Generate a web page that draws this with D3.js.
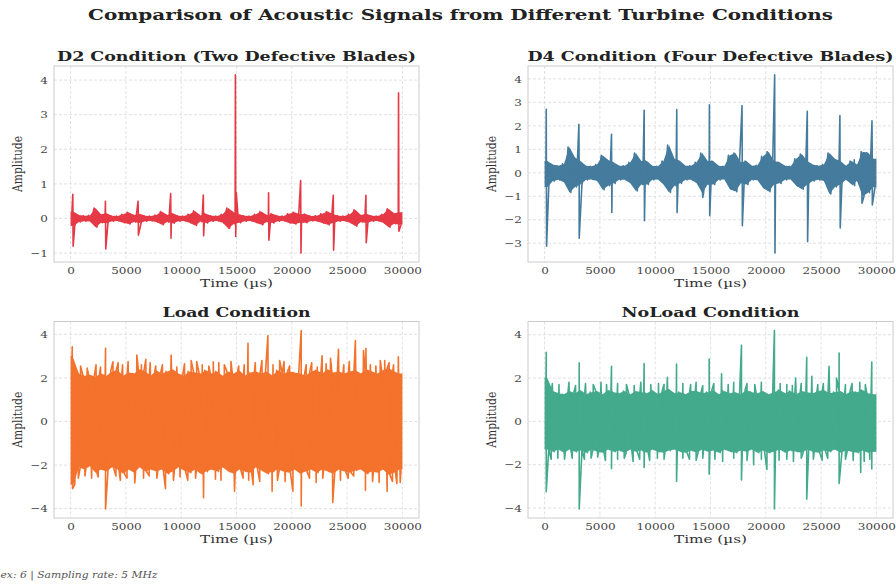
<!DOCTYPE html>
<html><head><meta charset="utf-8">
<script src="https://cdn.jsdelivr.net/npm/d3@7"></script>
<style>body{margin:0;background:#fff}svg{display:block}</style>
</head><body>
<svg id="c" width="896" height="585"></svg>
<script>
// ---------------- DATA ----------------
const timeTicks = [0, 5000, 10000, 15000, 20000, 25000, 30000];
const binStart = d3.range(0, 30000, 500); // 60 bins of 500 µs (envelope grid)

const panelTitles = ["D2 Condition (Two Defective Blades)", "D4 Condition (Four Defective Blades)", "Load Condition", "NoLoad Condition"];
const colors = ["#e63946", "#457b9d", "#f3722c", "#43aa8b"];
const yTicksD2 = [-1, 0, 1, 2, 3, 4];
const yTicksD4 = [-3, -2, -1, 0, 1, 2, 3, 4];
const yTicksLoad = [-4, -2, 0, 2, 4];
const yTicksNoLoad = [-4, -2, 0, 2, 4];
const footnote = "ex: 6 | Sampling rate: 5 MHz";

// D2 envelope (max / min per bin)
const d2Hi = [0.20,0.10,0.08,0.09,0.30,0.12,0.15,0.08,0.07,0.12,0.18,0.10,0.14,0.08,0.07,0.10,0.20,0.10,0.15,0.08,0.07,0.12,0.22,0.09,0.14,0.08,0.07,0.12,0.30,0.18,0.12,0.08,0.07,0.12,0.20,0.10,0.14,0.08,0.07,0.14,0.18,0.12,0.13,0.07,0.08,0.14,0.20,0.12,0.08,0.07,0.12,0.25,0.10,0.14,0.08,0.07,0.12,0.28,0.15,0.18];
const d2Lo = [-0.22,-0.10,-0.08,-0.09,-0.25,-0.12,-0.14,-0.08,-0.07,-0.12,-0.16,-0.10,-0.13,-0.08,-0.07,-0.10,-0.18,-0.10,-0.14,-0.08,-0.07,-0.12,-0.20,-0.09,-0.13,-0.08,-0.07,-0.12,-0.28,-0.16,-0.12,-0.08,-0.07,-0.12,-0.18,-0.10,-0.13,-0.08,-0.07,-0.13,-0.16,-0.12,-0.12,-0.07,-0.08,-0.13,-0.18,-0.12,-0.08,-0.07,-0.12,-0.22,-0.10,-0.13,-0.08,-0.07,-0.12,-0.25,-0.15,-0.18];
const d2UpT = [200, 3150, 6100, 9050, 12000, 14900, 14980, 17900, 20800, 23750, 26700, 29650];
const d2UpV = [0.70, 0.50, 0.50, 0.72, 0.68, 4.15, 0.75, 0.74, 1.10, 0.67, 0.67, 3.63];
const d2DnT = [230, 3180, 6130, 9080, 12030, 14300, 14930, 17930, 20830, 23780, 26730, 29680];
const d2DnV = [-0.80, -0.88, -0.48, -0.57, -0.50, -0.28, -0.52, -0.63, -1.00, -0.92, -0.70, -0.37];

// D4 envelope
const d4Hi = [0.50,0.35,0.30,0.38,1.10,0.65,0.50,0.30,0.28,0.35,0.75,0.55,0.45,0.30,0.30,0.45,0.84,0.50,0.50,0.30,0.28,0.50,1.18,0.60,0.50,0.30,0.30,0.45,0.84,0.50,0.50,0.30,0.28,0.75,0.84,0.45,0.50,0.30,0.32,0.70,0.90,0.50,0.45,0.30,0.28,0.60,0.80,0.50,0.35,0.30,0.35,0.84,0.60,0.50,0.30,0.50,0.35,0.90,0.85,0.60];
const d4Lo = [-0.60,-0.35,-0.30,-0.40,-0.84,-0.60,-0.50,-0.30,-0.28,-0.35,-0.72,-0.55,-0.45,-0.30,-0.30,-0.45,-0.77,-0.50,-0.50,-0.30,-0.28,-0.50,-0.84,-0.55,-0.45,-0.30,-0.30,-0.45,-0.86,-0.50,-0.50,-0.30,-0.28,-0.70,-0.80,-0.45,-0.50,-0.30,-0.32,-0.65,-0.80,-0.50,-0.45,-0.30,-0.28,-0.55,-0.70,-0.50,-0.35,-0.30,-0.35,-0.90,-0.60,-0.50,-0.30,-0.50,-0.35,-1.00,-0.85,-0.60];
const d4UpT = [150, 3100, 6050, 9000, 11950, 14900, 17850, 20800, 23750, 26700, 28000, 29600];
const d4UpV = [2.71, 2.07, 1.64, 2.66, 2.69, 2.90, 2.86, 4.17, 2.62, 2.44, 0.55, 2.22];
const d4DnT = [180, 3130, 6080, 9030, 11980, 14300, 14930, 17880, 20830, 23780, 26730, 28030, 28700, 29630];
const d4DnV = [-3.13, -2.79, -1.69, -2.04, -1.69, -1.05, -1.83, -2.25, -3.42, -2.93, -2.35, -0.55, -1.30, -1.37];

// Load envelope
const loadHi = [2.90,2.20,2.10,2.15,2.05,2.20,2.10,2.30,2.35,2.10,2.25,2.20,2.40,2.30,2.10,2.35,2.20,2.30,2.40,2.20,2.10,2.30,2.25,2.20,2.35,2.20,2.30,2.10,2.30,2.20,2.35,2.10,2.25,2.30,2.20,2.30,2.10,2.35,2.20,2.30,2.25,2.20,2.10,2.30,2.35,2.20,2.40,2.25,2.30,2.20,2.30,2.35,2.20,2.40,2.30,2.20,2.35,2.45,2.30,2.20];
const loadLo = [-2.90,-2.10,-2.20,-2.05,-2.35,-2.20,-2.30,-2.10,-2.20,-2.40,-2.20,-2.35,-2.10,-2.30,-2.20,-2.30,-2.20,-2.40,-2.30,-2.10,-2.25,-2.35,-2.20,-2.40,-2.30,-2.20,-2.30,-2.10,-2.30,-2.40,-2.20,-2.30,-2.35,-2.10,-2.25,-2.40,-2.30,-2.20,-2.30,-2.35,-2.20,-2.40,-2.30,-2.20,-2.35,-2.20,-2.30,-2.40,-2.20,-2.30,-2.35,-2.25,-2.20,-2.40,-2.30,-2.35,-2.20,-2.45,-2.35,-2.20];
const loadUpT = [30, 150, 3160, 3830, 5990, 6800, 9090, 10900, 12900, 16040, 17840, 18900, 20850, 22740, 23500, 24220, 25750, 26480, 26700, 28400, 29630,
  900, 1500, 2300, 2700, 4300, 4700, 5200, 6400, 7200, 7700, 8300, 9600, 10300, 11400, 11900, 12500, 13400, 13900, 14500, 15200, 15700, 16700, 17300, 18300, 19300, 19800, 21300, 21800, 22300, 23100, 24700, 25200, 27100, 27600, 28000, 28800, 29200];
const loadUpV = [3.00, 3.43, 3.36, 2.74, 3.05, 2.85, 3.05, 2.80, 2.74, 3.59, 3.94, 2.80, 4.18, 3.02, 2.90, 3.31, 3.72, 3.26, 3.36, 2.80, 2.97,
  2.55, 2.45, 2.60, 2.50, 2.70, 2.60, 2.75, 2.60, 2.70, 2.55, 2.60, 2.50, 2.65, 2.75, 2.60, 2.55, 2.70, 2.60, 2.75, 2.55, 2.60, 2.70, 2.80, 2.60, 2.75, 2.55, 2.60, 2.70, 2.50, 2.65, 2.60, 2.75, 2.60, 2.55, 2.80, 2.70, 2.60];
const loadDnT = [180, 3160, 5800, 8580, 12020, 14820, 16500, 18220, 20100, 20850, 23700, 26660, 28620, 29500,
  700, 1300, 1900, 2500, 4100, 4500, 5100, 6600, 7100, 7800, 9300, 9900, 10600, 11300, 13100, 13600, 15600, 16100, 17100, 18700, 19400, 21600, 22200, 22800, 24400, 25100, 25600, 27300, 27900, 29100, 29800];
const loadDnV = [-3.08, -4.02, -2.82, -3.08, -3.50, -3.20, -2.90, -3.20, -3.20, -3.88, -3.72, -3.16, -3.20, -2.85,
  -2.60, -2.50, -2.60, -2.55, -2.50, -2.70, -2.60, -2.60, -2.50, -2.60, -2.70, -2.55, -2.70, -2.60, -2.65, -2.70, -2.60, -2.70, -2.75, -2.70, -2.75, -2.60, -2.80, -2.60, -2.70, -2.60, -2.50, -2.75, -2.80, -2.75, -2.80];

// NoLoad envelope
const noloadHi = [2.00,1.40,1.30,1.25,1.40,1.30,1.45,1.25,1.35,1.40,1.25,1.45,1.35,1.30,1.40,1.25,1.40,1.35,1.30,1.45,1.25,1.40,1.50,1.30,1.35,1.25,1.40,1.40,1.30,1.35,1.45,1.25,1.40,1.30,1.35,1.25,1.45,1.35,1.30,1.40,1.25,1.35,1.45,1.30,1.40,1.25,1.40,1.35,1.30,1.40,1.45,1.30,1.35,1.40,1.25,1.40,1.35,1.45,1.30,1.25];
const noloadLo = [-1.30,-1.40,-1.30,-1.45,-1.30,-1.40,-1.35,-1.45,-1.30,-1.40,-1.45,-1.30,-1.40,-1.35,-1.45,-1.30,-1.40,-1.35,-1.45,-1.30,-1.40,-1.45,-1.35,-1.30,-1.40,-1.45,-1.35,-1.45,-1.30,-1.40,-1.35,-1.45,-1.30,-1.40,-1.45,-1.35,-1.40,-1.30,-1.45,-1.35,-1.45,-1.40,-1.30,-1.45,-1.35,-1.40,-1.45,-1.30,-1.40,-1.45,-1.35,-1.40,-1.30,-1.45,-1.35,-1.40,-1.45,-1.35,-1.45,-1.40];
const noloadUpT = [30, 150, 3130, 6050, 9000, 11100, 11930, 14880, 16000, 17800, 20780, 22700, 23700, 24160, 25720, 26400, 26630, 29580,
  700, 1300, 2200, 2800, 3700, 4400, 5100, 5600, 6600, 7400, 8100, 8700, 9600, 10300, 10800, 12500, 13200, 13700, 14300, 15300, 16600, 17100, 18300, 19000, 19600, 21300, 21900, 22400, 23200, 24700, 25200, 27200, 27800, 28500, 29000];
const noloadUpV = [2.00, 3.19, 2.70, 2.54, 2.67, 2.04, 2.65, 2.88, 2.20, 3.51, 4.20, 2.00, 2.96, 2.08, 2.54, 2.00, 3.16, 2.74,
  1.75, 1.70, 1.80, 1.65, 1.75, 1.70, 1.80, 1.70, 1.75, 1.70, 1.65, 1.80, 1.70, 1.75, 1.70, 1.75, 1.70, 1.80, 1.65, 1.75, 1.70, 1.80, 1.75, 1.70, 1.80, 1.75, 1.70, 1.65, 1.75, 1.70, 1.75, 1.70, 1.75, 1.80, 1.70];
const noloadDnT = [150, 3130, 6050, 9000, 11930, 14880, 17800, 20100, 20780, 23700, 26630, 28580, 29580,
  600, 1200, 1800, 2500, 3600, 4200, 4800, 5500, 6600, 7200, 8000, 8600, 9500, 10200, 10800, 12500, 13100, 13700, 14300, 15400, 16100, 17100, 18300, 18900, 19600, 21200, 21900, 22500, 23200, 24300, 25100, 25600, 27200, 27900, 28900, 29400];
const noloadDnV = [-3.25, -4.05, -2.18, -2.13, -2.77, -2.44, -2.71, -2.22, -4.05, -3.59, -2.87, -2.36, -2.20,
  -1.75, -1.70, -1.75, -1.70, -1.75, -1.70, -1.65, -1.80, -1.75, -1.70, -1.85, -1.75, -1.80, -1.70, -1.75, -1.70, -1.75, -1.80, -1.70, -1.75, -1.85, -1.70, -1.80, -2.00, -1.75, -1.80, -1.75, -1.85, -1.70, -1.75, -1.80, -1.70, -1.75, -1.80, -1.85, -1.75];

// ---------------- LAYOUT ----------------
const svg = d3.select("#c");
const FONT = "'DejaVu Serif', serif";

const panels = [
  {title: panelTitles[0], color: colors[0], hi: d2Hi, lo: d2Lo, upT: d2UpT, upV: d2UpV, dnT: d2DnT, dnV: d2DnV, yTicks: yTicksD2, box: {l: 54, r: 419, t: 66, b: 262}, titleW: 359},
  {title: panelTitles[1], color: colors[1], hi: d4Hi, lo: d4Lo, upT: d4UpT, upV: d4UpV, dnT: d4DnT, dnV: d4DnV, yTicks: yTicksD4, box: {l: 528, r: 893, t: 66, b: 262}, titleW: 366},
  {title: panelTitles[2], color: colors[2], hi: loadHi, lo: loadLo, upT: loadUpT, upV: loadUpV, dnT: loadDnT, dnV: loadDnV, yTicks: yTicksLoad, box: {l: 54, r: 419, t: 321.5, b: 518}, titleW: 148},
  {title: panelTitles[3], color: colors[3], hi: noloadHi, lo: noloadLo, upT: noloadUpT, upV: noloadUpV, dnT: noloadDnT, dnV: noloadDnV, yTicks: yTicksNoLoad, box: {l: 528, r: 893, t: 321.5, b: 518}, titleW: 178}
];

function stretch(sel, k) {
  sel.each(function () {
    const n = this.getComputedTextLength();
    d3.select(this).attr("textLength", n * k).attr("lengthAdjust", "spacingAndGlyphs");
  });
}

// main title
svg.append("text").attr("x", 460.5).attr("y", 19.5).attr("text-anchor", "middle")
  .attr("font-family", FONT).attr("font-weight", "bold").attr("font-size", 15).attr("fill", "#222")
  .attr("textLength", 745).attr("lengthAdjust", "spacingAndGlyphs")
  .text("Comparison of Acoustic Signals from Different Turbine Conditions");

panels.forEach((p, idx) => {
  const B = p.box;
  const allV = p.hi.concat(p.lo, p.upV, p.dnV);
  const [vmin, vmax] = d3.extent(allV);
  const pad = (vmax - vmin) * 0.05;
  const x = d3.scaleLinear().domain([-1500, 31500]).range([B.l, B.r]);
  const y = d3.scaleLinear().domain([vmin - pad, vmax + pad]).range([B.b, B.t]);
  const g = svg.append("g");

  const cid = "clip" + idx;
  svg.append("clipPath").attr("id", cid).append("rect")
    .attr("x", B.l).attr("y", B.t).attr("width", B.r - B.l).attr("height", B.b - B.t);

  // grid
  g.selectAll(".gx").data(timeTicks).enter().append("line")
    .attr("x1", d => x(d)).attr("x2", d => x(d)).attr("y1", B.t).attr("y2", B.b)
    .attr("stroke", "#d9d9d9").attr("stroke-width", 0.8).attr("stroke-dasharray", "3,2");
  g.selectAll(".gy").data(p.yTicks).enter().append("line")
    .attr("y1", d => y(d)).attr("y2", d => y(d)).attr("x1", B.l).attr("x2", B.r)
    .attr("stroke", "#d9d9d9").attr("stroke-width", 0.8).attr("stroke-dasharray", "3,2");

  // signal
  const pts = [];
  p.hi.forEach((h, i) => { pts.push([binStart[i] + 125, h]); pts.push([binStart[i] + 375, p.lo[i]]); });
  p.upT.forEach((t, i) => pts.push([t, p.upV[i]]));
  p.dnT.forEach((t, i) => pts.push([t, p.dnV[i]]));
  pts.sort((a, b) => a[0] - b[0]);

  const areaPts = p.hi.map((h, i) => [binStart[i] + 250, h, p.lo[i]]);
  areaPts.unshift([0, p.hi[0], p.lo[0]]);
  areaPts.push([30000, p.hi[p.hi.length - 1], p.lo[p.lo.length - 1]]);

  const sg = g.append("g").attr("clip-path", `url(#${cid})`);
  sg.append("path").datum(areaPts)
    .attr("d", d3.area().x(d => x(d[0])).y0(d => y(d[2])).y1(d => y(d[1])))
    .attr("fill", p.color);
  sg.append("path").datum(pts)
    .attr("d", d3.line().x(d => x(d[0])).y(d => y(d[1])))
    .attr("fill", "none").attr("stroke", p.color).attr("stroke-width", 1.6)
    .attr("stroke-linejoin", "round");

  // frame
  g.append("rect").attr("x", B.l).attr("y", B.t).attr("width", B.r - B.l).attr("height", B.b - B.t)
    .attr("fill", "none").attr("stroke", "#cccccc").attr("stroke-width", 1);

  // axes
  const ax = g.append("g").attr("transform", `translate(0,${B.b})`)
    .call(d3.axisBottom(x).tickValues(timeTicks).tickSize(0).tickPadding(4.5).tickFormat(d3.format("d")));
  const ay = g.append("g").attr("transform", `translate(${B.l},0)`)
    .call(d3.axisLeft(y).tickValues(p.yTicks).tickSize(0).tickPadding(6).tickFormat(d3.format("d")));
  [ax, ay].forEach(a => {
    a.select(".domain").remove();
    a.selectAll("text").attr("font-family", FONT).attr("font-size", 10).attr("fill", "#444");
    stretch(a.selectAll("text"), 1.2);
  });

  const cx = (B.l + B.r) / 2, cy = (B.t + B.b) / 2;
  // panel title
  g.append("text").attr("x", cx).attr("y", B.t - 5).attr("text-anchor", "middle")
    .attr("font-family", FONT).attr("font-weight", "bold").attr("font-size", 12.5).attr("fill", "#222")
    .attr("textLength", p.titleW).attr("lengthAdjust", "spacingAndGlyphs").text(p.title);
  // x label
  g.append("text").attr("x", cx).attr("y", B.b + 25).attr("text-anchor", "middle")
    .attr("font-family", FONT).attr("font-size", 11.5).attr("fill", "#333")
    .attr("textLength", 73).attr("lengthAdjust", "spacingAndGlyphs").text("Time (µs)");
  // y label
  const lx = B.l - 32;
  g.append("text").attr("transform", `translate(${lx},${cy}) rotate(-90)`).attr("text-anchor", "middle")
    .attr("font-family", FONT).attr("font-size", 13).attr("fill", "#333")
    .attr("textLength", 56).attr("lengthAdjust", "spacingAndGlyphs").text("Amplitude");
});

// footnote
svg.append("text").attr("x", 0.5).attr("y", 577.5).attr("text-anchor", "start")
  .attr("font-family", FONT).attr("font-style", "italic").attr("font-size", 9).attr("fill", "#555")
  .attr("textLength", 157).attr("lengthAdjust", "spacingAndGlyphs")
  .text(footnote);
</script>
</body></html>
